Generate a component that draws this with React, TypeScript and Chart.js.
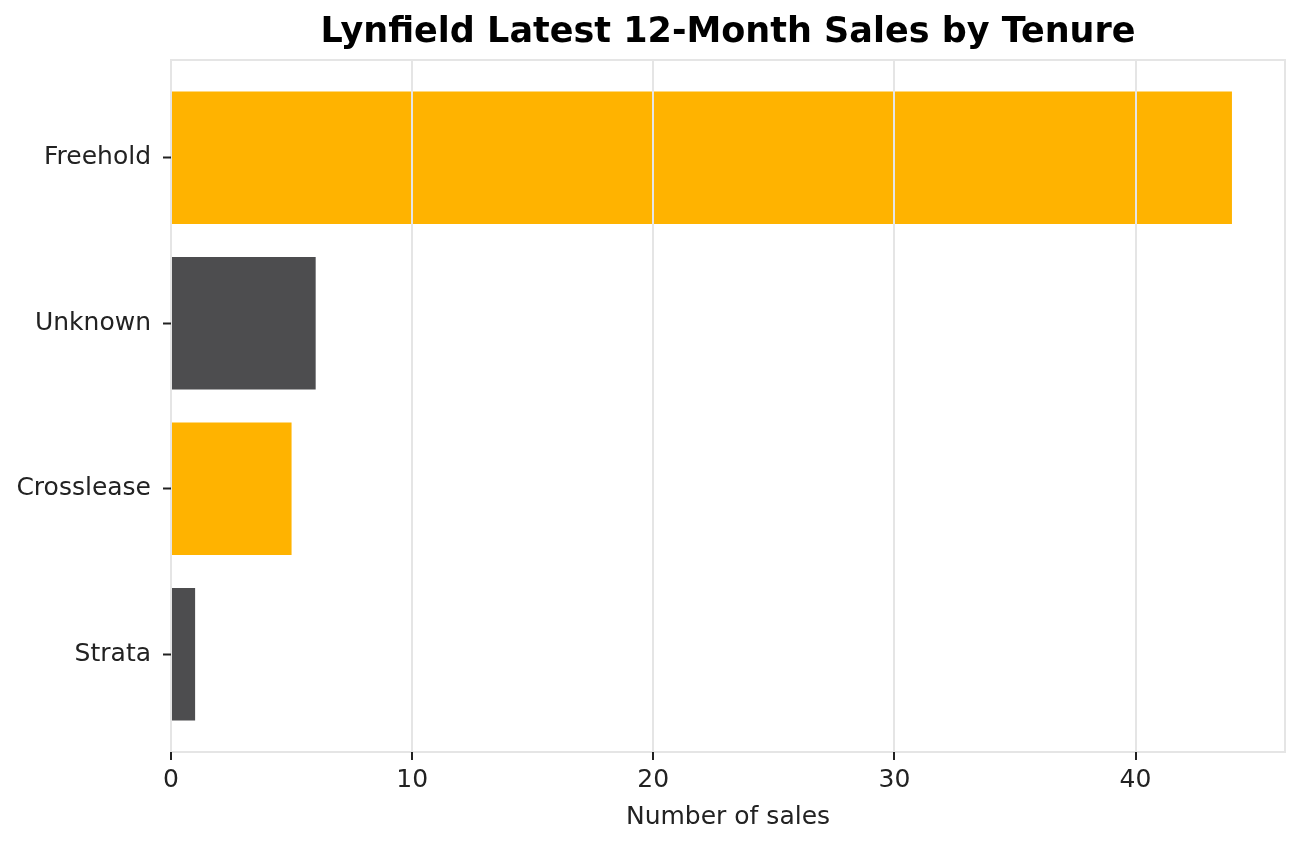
import { useEffect, useRef } from "react";
import { Chart, registerables } from "chart.js";

Chart.register(...registerables);

const chartTitle = "Lynfield Latest 12-Month Sales by Tenure";
const categories = ["Freehold", "Unknown", "Crosslease", "Strata"];
const sales = [44, 6, 5, 1];
const barColors = ["#FFB300", "#4D4D4F", "#FFB300", "#4D4D4F"];
const xTicks = [0, 10, 20, 30, 40];
const xAxisLabel = "Number of sales";

const FONT = "'DejaVu Sans', sans-serif";
const TEXT = "#222222";
const GRID = "#e5e5e5";

// Light frame around the plot area (all four sides).
const framePlugin = {
  id: "plotFrame",
  afterDatasetsDraw(chart: any) {
    const { ctx, chartArea: a } = chart;
    ctx.save();
    ctx.strokeStyle = GRID;
    ctx.lineWidth = 2;
    ctx.strokeRect(a.left, a.top, a.right - a.left, a.bottom - a.top);
    ctx.restore();
  },
};

// Bold title centred over the plot area.
const titlePlugin = {
  id: "plotTitle",
  afterDraw(chart: any) {
    const { ctx, chartArea: a } = chart;
    ctx.save();
    ctx.fillStyle = "#000000";
    ctx.font = `bold 35px ${FONT}`;
    ctx.textAlign = "center";
    ctx.textBaseline = "alphabetic";
    ctx.fillText(chartTitle, (a.left + a.right) / 2, 42);
    ctx.restore();
  },
};

export default function App() {
  const canvasRef = useRef<HTMLCanvasElement | null>(null);

  useEffect(() => {
    if (!canvasRef.current) return;
    const chart = new Chart(canvasRef.current, {
      type: "bar",
      data: {
        datasets: [
          {
            data: sales.map((v, i) => ({ x: v, y: i })),
            backgroundColor: barColors,
            borderWidth: 0,
            categoryPercentage: 1,
            barPercentage: 0.8,
          },
        ],
      },
      options: {
        indexAxis: "y",
        responsive: false,
        animation: false,
        layout: { padding: { top: 60, right: 19, left: 0, bottom: 0 } },
        plugins: {
          legend: { display: false },
          tooltip: { enabled: false },
          title: { display: false },
        },
        scales: {
          x: {
            type: "linear",
            min: 0,
            max: 46.2,
            afterBuildTicks: (scale: any) => {
              scale.ticks = xTicks.map((v) => ({ value: v }));
            },
            afterFit: (scale: any) => {
              scale.height = 94;
            },
            border: { display: false },
            grid: {
              z: 1,
              color: GRID,
              lineWidth: 2,
              drawTicks: true,
              tickLength: 8,
              tickColor: TEXT,
              tickWidth: 2,
            },
            ticks: {
              color: TEXT,
              font: { family: FONT, size: 25 },
              padding: 5,
            },
            title: {
              display: true,
              text: xAxisLabel,
              color: TEXT,
              font: { family: FONT, size: 25 },
              padding: { top: 4, bottom: 14 },
            },
          },
          y: {
            type: "linear",
            reverse: true,
            offset: false,
            min: -0.59,
            max: 3.59,
            afterBuildTicks: (scale: any) => {
              scale.ticks = categories.map((_, i) => ({ value: i }));
            },
            afterFit: (scale: any) => {
              scale.width = 171;
            },
            border: { display: false },
            grid: {
              z: 1,
              offset: false,
              drawOnChartArea: false,
              drawTicks: true,
              tickLength: 8,
              tickColor: TEXT,
              tickWidth: 2,
            },
            ticks: {
              autoSkip: false,
              color: TEXT,
              font: { family: FONT, size: 25 },
              padding: 12,
              callback: (v: any) => categories[Number(v)] ?? "",
            },
          },
        },
      } as any,
      plugins: [framePlugin, titlePlugin],
    });
    return () => chart.destroy();
  }, []);

  return (
    <div style={{ position: "absolute", left: 0, top: 0, width: 1304, height: 846, background: "#fff" }}>
      <canvas ref={canvasRef} width={1304} height={846} />
    </div>
  );
}
